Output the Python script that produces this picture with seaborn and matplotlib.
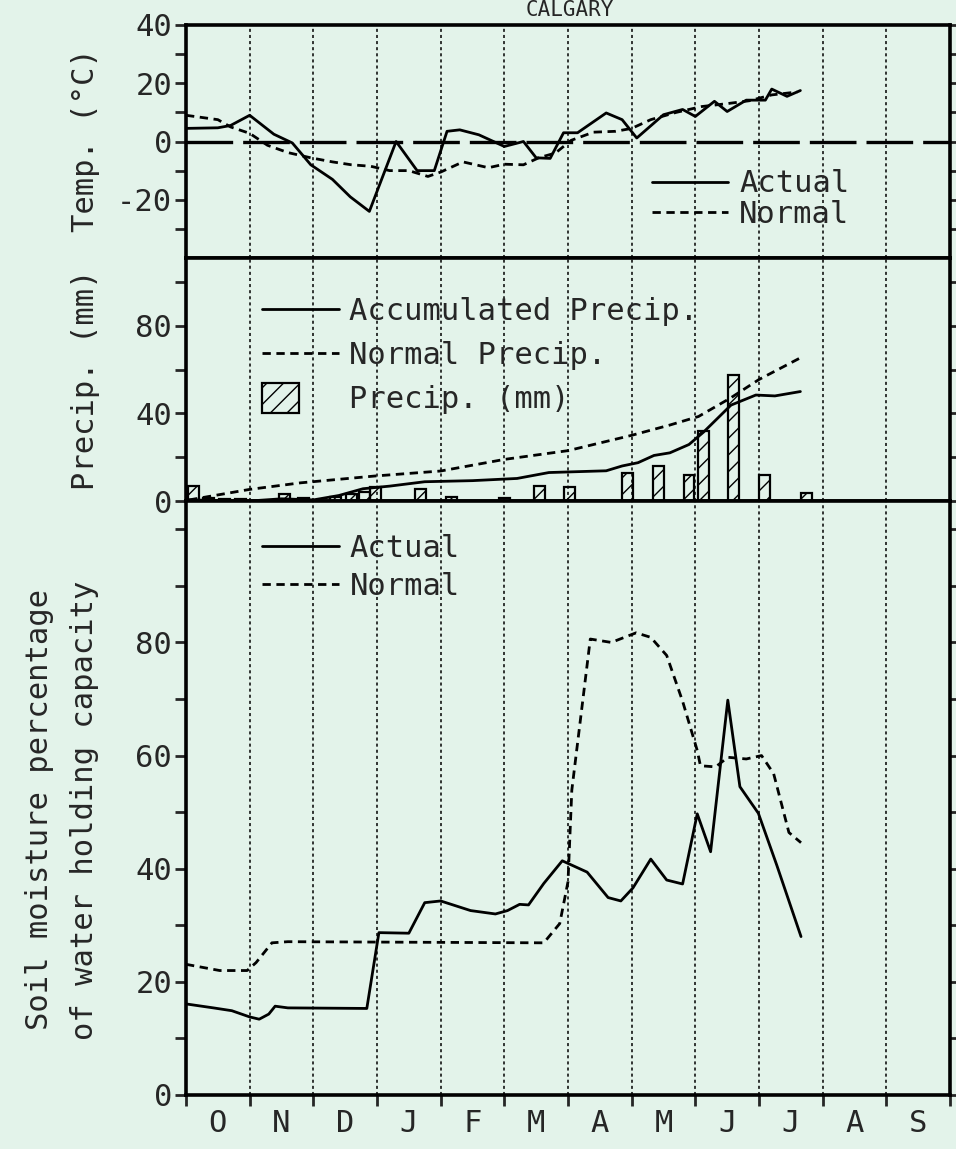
import numpy as np
import pandas as pd
import matplotlib
matplotlib.use("Agg")
import matplotlib.pyplot as plt
import seaborn as sns
from matplotlib.lines import Line2D
from matplotlib.patches import Patch, Rectangle
from matplotlib.legend_handler import HandlerPatch

# months since Oct 1 (0 = start of Oct, 12 = end of Sep)
months = ['O', 'N', 'D', 'J', 'F', 'M', 'A', 'M', 'J', 'J', 'A', 'S']

# temperature (C)
temp_act_x = [0.0, 0.5, 0.7, 1.0, 1.38, 1.67, 1.96, 2.3, 2.58, 2.88, 3.3, 3.63, 3.9, 4.1, 4.3, 4.6,
              5.0, 5.3, 5.5, 5.72, 5.93, 6.15, 6.6, 6.85, 7.08, 7.5, 7.8, 8.0, 8.3, 8.5, 8.8, 9.1,
              9.2, 9.44, 9.65]
temp_act_y = [4.5, 4.7, 5.5, 9, 2.5, -0.5, -8, -13, -19, -24, 0, -10, -10, 3.5, 4, 2.3,
              -1.7, 0, -5.6, -5.8, 3, 3, 9.8, 7.5, 1.2, 9.2, 11, 8.6, 13.8, 10.3, 14.2, 14.2,
              18, 15.5, 17.5]
temp_norm_x = [0.0, 0.5, 0.7, 1.0, 1.28, 1.6, 1.96, 2.3, 2.6, 2.9, 3.2, 3.5, 3.8, 4.0, 4.35, 4.75,
               5.0, 5.3, 5.55, 5.8, 6.05, 6.4, 6.75, 7.0, 7.3, 7.7, 8.1, 8.5, 8.85, 9.2, 9.6]
temp_norm_y = [9, 7.5, 5, 2.8, -1.3, -3.8, -5.6, -7, -8, -8.5, -10, -10, -12, -10.5, -7, -9,
               -7.8, -8, -5.5, -4, 0.4, 3.2, 3.5, 4.5, 7.5, 10, 12, 13, 14, 16, 17]

# precipitation (mm)
prec_acc_x = [0.05, 1.0, 1.5, 2.0, 2.4, 2.78, 3.2, 3.75, 4.5, 5.2, 5.7, 6.6, 6.85, 7.1, 7.35,
              7.6, 7.9, 8.13, 8.56, 8.95, 9.25, 9.65]
prec_acc_y = [0.5, 0, 1, 0.5, 2.5, 5.6, 6.8, 8.8, 9.3, 10.3, 13, 13.8, 16, 17.5, 20.8,
              22, 25.8, 31.5, 43.8, 48.4, 48, 50]
prec_norm_x = [0.05, 1.0, 1.8, 2.96, 4.0, 5.0, 6.0, 7.0, 7.6, 8.05, 8.55, 9.0, 9.65]
prec_norm_y = [0.5, 5.3, 8.3, 11.4, 13.7, 19, 23, 30, 34.7, 38.6, 47, 55.5, 65.4]
prec_bar_x = [0.12, 0.35, 0.6, 0.85, 1.55, 1.85, 2.35, 2.6, 2.8, 2.98, 3.68, 4.17, 5.0, 5.55,
              6.02, 6.93, 7.42, 7.9, 8.13, 8.6, 9.08, 9.75]
prec_bar_y = [7, 1.5, 1, 1, 3, 1.5, 2, 3, 4, 6.5, 5.5, 2, 1.5, 7,
              6.5, 13, 16, 12, 32, 57.5, 12, 3.5]

# soil moisture (% of water holding capacity)
soil_act_x = [0, 0.43, 0.72, 1.0, 1.15, 1.3, 1.4, 1.6, 2.84, 3.03, 3.5, 3.75, 4.0, 4.47, 4.86,
              5.05, 5.24, 5.38, 5.62, 5.91, 6.3, 6.63, 6.83, 7.02, 7.3, 7.55, 7.8, 8.03, 8.24,
              8.51, 8.7, 8.99, 9.28, 9.66]
soil_act_y = [16.1, 15.4, 14.9, 13.8, 13.4, 14.3, 15.7, 15.4, 15.3, 28.7, 28.6, 34, 34.3, 32.6, 32,
              32.6, 33.7, 33.6, 37.4, 41.4, 39.4, 34.9, 34.3, 36.6, 41.7, 38, 37.3, 49.7, 43,
              69.8, 54.5, 49.8, 40.6, 28]
soil_norm_x = [0, 0.53, 0.96, 1.1, 1.35, 1.6, 5.62, 5.87, 6.0, 6.06, 6.35, 6.68, 7.07, 7.3, 7.55,
               7.8, 8.03, 8.08, 8.32, 8.51, 8.8, 9.04, 9.23, 9.47, 9.66]
soil_norm_y = [23.1, 22, 22, 23.4, 26.9, 27.1, 26.9, 30.3, 37.7, 53.9, 80.6, 80, 81.7, 80.9, 77.7,
               69.6, 60.9, 58.2, 58, 59.7, 59.4, 60, 56.8, 46.4, 44.6]

bg = '#e3f3ea'
sns.set_theme(style="ticks")
plt.rcParams['font.family'] = ['DejaVu Sans Mono', 'DejaVu Sans']
plt.rcParams['axes.linewidth'] = 2.6
FS = 22

fig = plt.figure(figsize=(9.56, 11.49), dpi=100, facecolor=bg)
L, W = 186 / 956, (950 - 186) / 956
H = 1149
ax_t = fig.add_axes([L, 1 - 258 / H, W, (258 - 25) / H])
ax_p = fig.add_axes([L, 1 - 501 / H, W, (501 - 258) / H])
ax_s = fig.add_axes([L, 1 - 1095 / H, W, (1095 - 501) / H])

solid = dict(color='black', lw=2.0)
dash = dict(color='black', lw=2.0, linestyle=(0, (3, 2)))


def line(ax, x, y, style):
    df = pd.DataFrame({'x': x, 'y': y})
    sns.lineplot(data=df, x='x', y='y', sort=False, estimator=None, ax=ax, **style)


line(ax_t, temp_act_x, temp_act_y, solid)
line(ax_t, temp_norm_x, temp_norm_y, dash)
ax_t.axhline(0, color='black', lw=2.4, linestyle=(0, (14, 3)))

ax_p.bar(prec_bar_x, prec_bar_y, width=0.17, facecolor='none', edgecolor='black',
         hatch='//', lw=1.6, zorder=3)
line(ax_p, prec_acc_x, prec_acc_y, solid)
line(ax_p, prec_norm_x, prec_norm_y, dash)

line(ax_s, soil_act_x, soil_act_y, solid)
line(ax_s, soil_norm_x, soil_norm_y, dash)

ax_t.set_ylim(-40, 40)
ax_p.set_ylim(0, 111)
ax_s.set_ylim(0, 105)

for ax, major, minor in [(ax_t, [-20, 0, 20, 40], np.arange(-30, 41, 10)),
                         (ax_p, [0, 40, 80], np.arange(0, 111, 20)),
                         (ax_s, [0, 20, 40, 60, 80], np.arange(0, 101, 10))]:
    ax.set_facecolor(bg)
    ax.set_xlim(0, 12)
    ax.set_xlabel('')
    ax.set_ylabel('')
    for m in range(1, 12):
        ax.axvline(m, color='black', lw=1.1, linestyle=(0, (2, 2)), zorder=1)
    ax.set_yticks(major)
    ax.set_yticklabels([str(v) for v in major], fontsize=FS)
    ax.set_yticks(minor, minor=True)
    ax.tick_params(axis='y', which='both', direction='out', length=8, width=2,
                   right=True, pad=2)
    for sp in ax.spines.values():
        sp.set_visible(True)
        sp.set_color('black')
    if ax is not ax_s:
        ax.set_xticks([])
        ax.set_xticks([], minor=True)

ax_s.set_xticks(range(13))
ax_s.set_xticklabels([''] * 13)
ax_s.set_xticks(np.arange(0.5, 12, 1), minor=True)
ax_s.set_xticklabels(months, minor=True, fontsize=FS)
ax_s.tick_params(axis='x', which='major', direction='out', length=8, width=2)
ax_s.tick_params(axis='x', which='minor', length=0, pad=10)


class SmallBox(HandlerPatch):
    def create_artists(self, legend, orig_handle, xdescent, ydescent, width, height, fontsize, trans):
        r = Rectangle((-xdescent, -ydescent - 3), width * 0.48, height + 6,
                      facecolor='none', edgecolor='black', hatch='//', lw=1.6, transform=trans)
        return [r]


leg_kw = dict(frameon=False, fontsize=FS, handlelength=2.5, handletextpad=0.35,
              borderaxespad=0, borderpad=0, loc='upper left')

h_act = Line2D([], [], **solid)
h_norm = Line2D([], [], **dash)

ax_t.legend([h_act, h_norm], ['Actual', 'Normal'], bbox_to_anchor=(0.61, 0.38),
            labelspacing=0.05, **leg_kw)
box = Patch(facecolor='none', edgecolor='black', hatch='//')
ax_p.legend([h_act, h_norm, box], ['Accumulated Precip.', 'Normal Precip.', 'Precip. (mm)'],
            bbox_to_anchor=(0.1, 0.84), labelspacing=0.5, handler_map={Patch: SmallBox()},
            **leg_kw)
ax_s.legend([h_act, h_norm], ['Actual', 'Normal'], bbox_to_anchor=(0.1, 0.945),
            labelspacing=0.3, **leg_kw)

fig.text(570 / 956, 1.0, 'CALGARY', ha='center', va='top', fontsize=15)
fig.text(85 / 956, 1 - 140 / H, 'Temp. (°C)', rotation=90, ha='center', va='center', fontsize=FS)
fig.text(85 / 956, 1 - 380 / H, 'Precip. (mm)', rotation=90, ha='center', va='center', fontsize=FS)
fig.text(40 / 956, 1 - 810 / H, 'Soil moisture percentage', rotation=90, ha='center',
         va='center', fontsize=FS)
fig.text(85 / 956, 1 - 810 / H, 'of water holding capacity', rotation=90, ha='center',
         va='center', fontsize=FS)

fig.savefig('out.png', dpi=100, facecolor=bg)
